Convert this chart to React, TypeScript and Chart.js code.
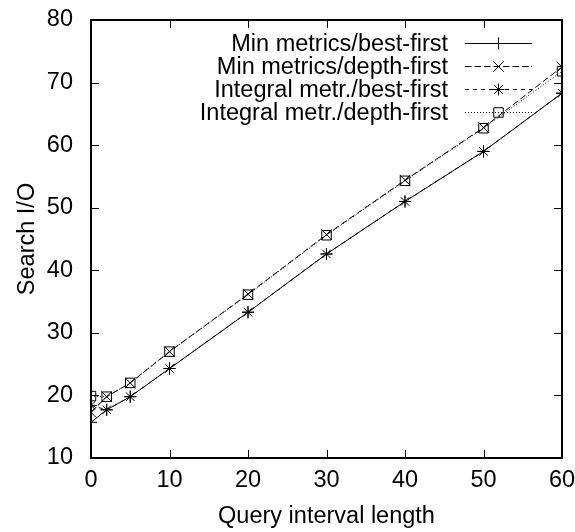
import React, { useEffect, useRef } from 'react';
import { Chart, registerables } from 'chart.js';
import { drawPoint } from 'chart.js/helpers';

Chart.register(...registerables);

// Query interval lengths (x) and measured search I/O per strategy (y)
const queryLengths = [0, 2, 5, 10, 20, 30, 40, 50, 60];
const minBestFirst = [15.7, 17.7, 19.8, 24.3, 33.3, 42.6, 51.0, 59.0, 68.3];
const minDepthFirst = [17.3, 19.8, 22.0, 27.0, 36.2, 45.7, 54.4, 62.8, 72.5];
const integralBestFirst = [18.4, 17.7, 19.8, 24.3, 33.3, 42.6, 51.0, 59.0, 68.3];
const integralDepthFirst = [19.9, 19.8, 22.0, 27.0, 36.1, 45.6, 54.3, 62.7, 71.8];

const seriesLabels = [
  'Min metrics/best-first',
  'Min metrics/depth-first',
  'Integral metr./best-first',
  'Integral metr./depth-first',
];

const xTickValues = [0, 10, 20, 30, 40, 50, 60];
const yTickValues = [10, 20, 30, 40, 50, 60, 70, 80];

const FONT_FAMILY = '"Liberation Sans", Arial, Helvetica, sans-serif';
const FONT_SIZE = 23.5;
const TICK_LEN = 8;

// Plot frame with inward ticks on all four sides
const framePlugin = {
  id: 'frameTicks',
  afterDatasetsDraw(chart: any) {
    const { ctx, chartArea } = chart;
    const { left, right, top, bottom } = chartArea;
    const xs = chart.scales.x;
    const ys = chart.scales.y;
    ctx.save();
    ctx.strokeStyle = '#000';
    ctx.lineWidth = 1;
    ctx.beginPath();
    xTickValues.forEach((v) => {
      const px = Math.round(xs.getPixelForValue(v)) + 0.5;
      ctx.moveTo(px, bottom);
      ctx.lineTo(px, bottom - TICK_LEN);
      ctx.moveTo(px, top);
      ctx.lineTo(px, top + TICK_LEN);
    });
    yTickValues.forEach((v) => {
      const py = Math.round(ys.getPixelForValue(v)) + 0.5;
      ctx.moveTo(left, py);
      ctx.lineTo(left + TICK_LEN, py);
      ctx.moveTo(right, py);
      ctx.lineTo(right - TICK_LEN, py);
    });
    ctx.stroke();
    ctx.lineWidth = 2;
    ctx.strokeRect(left, top, right - left, bottom - top);
    ctx.restore();
  },
};

// Key in the upper right: right-aligned label, then line sample with marker
const keyPlugin = {
  id: 'rightKey',
  afterDraw(chart: any) {
    const { ctx, chartArea } = chart;
    const textRight = chartArea.right - 114;
    const lineStart = chartArea.right - 97;
    const lineEnd = chartArea.right - 30;
    const firstRow = chartArea.top + 22.5;
    const rowStep = 23.1;
    ctx.save();
    ctx.font = `${FONT_SIZE}px ${FONT_FAMILY}`;
    ctx.textAlign = 'right';
    ctx.textBaseline = 'middle';
    chart.data.datasets.forEach((ds: any, i: number) => {
      const y = Math.round(firstRow + i * rowStep) + 0.5;
      ctx.fillStyle = '#000';
      ctx.fillText(ds.label, textRight, y + 1);
      ctx.strokeStyle = '#000';
      ctx.lineWidth = 1;
      ctx.setLineDash(ds.borderDash || []);
      ctx.beginPath();
      ctx.moveTo(lineStart, y);
      ctx.lineTo(lineEnd, y);
      ctx.stroke();
      ctx.setLineDash([]);
      ctx.fillStyle = 'rgba(0,0,0,0)';
      drawPoint(
        ctx,
        {
          pointStyle: ds.pointStyle,
          radius: ds.pointRadius,
          rotation: 0,
          borderWidth: 1,
        } as any,
        (lineStart + lineEnd) / 2,
        y
      );
    });
    ctx.restore();
  },
};

export default function App() {
  const canvasRef = useRef<HTMLCanvasElement | null>(null);

  useEffect(() => {
    if (!canvasRef.current) return;
    const font = { family: FONT_FAMILY, size: FONT_SIZE };
    const common = {
      borderColor: '#000',
      borderWidth: 1,
      pointBorderColor: '#000',
      pointBackgroundColor: 'rgba(0,0,0,0)',
      pointBorderWidth: 1,
      fill: false,
      tension: 0,
    };
    const toPoints = (ys: number[]) => queryLengths.map((x, i) => ({ x, y: ys[i] }));

    const chart = new Chart(canvasRef.current, {
      type: 'line',
      data: {
        datasets: [
          { ...common, label: seriesLabels[0], data: toPoints(minBestFirst), pointStyle: 'cross', pointRadius: 6, borderDash: [] },
          { ...common, label: seriesLabels[1], data: toPoints(minDepthFirst), pointStyle: 'crossRot', pointRadius: 7.5, borderDash: [6.5, 3] },
          { ...common, label: seriesLabels[2], data: toPoints(integralBestFirst), pointStyle: 'star', pointRadius: 6, borderDash: [4, 4] },
          { ...common, label: seriesLabels[3], data: toPoints(integralDepthFirst), pointStyle: 'rect', pointRadius: 6.7, borderDash: [1, 2] },
        ],
      },
      options: {
        animation: false,
        responsive: false,
        maintainAspectRatio: false,
        devicePixelRatio: 1,
        layout: { padding: { top: 20, right: 13, left: 0, bottom: 0 } },
        plugins: {
          legend: { display: false },
          tooltip: { enabled: false },
        },
        scales: {
          x: {
            type: 'linear',
            min: 0,
            max: 60,
            afterBuildTicks: (s: any) => {
              s.ticks = xTickValues.map((v) => ({ value: v }));
            },
            ticks: { font, color: '#000', padding: 0, maxRotation: 0, autoSkip: false },
            grid: { display: false },
            border: { display: false },
            title: {
              display: true,
              text: 'Query interval length',
              font,
              color: '#000',
              padding: { top: 8, bottom: 1 },
            },
            afterFit: (s: any) => {
              s.height = 74;
              s.paddingLeft = 0;
              s.paddingRight = 0;
            },
          },
          y: {
            type: 'linear',
            min: 10,
            max: 80,
            afterBuildTicks: (s: any) => {
              s.ticks = yTickValues.map((v) => ({ value: v }));
            },
            ticks: { font, color: '#000', padding: 10, autoSkip: false },
            grid: { display: false },
            border: { display: false },
            title: {
              display: true,
              text: 'Search I/O',
              font,
              color: '#000',
              padding: { top: 13, bottom: 0 },
            },
            afterFit: (s: any) => {
              s.width = 91;
              s.paddingTop = 0;
              s.paddingBottom = 0;
            },
          },
        },
      },
      plugins: [framePlugin, keyPlugin],
    } as any);

    return () => {
      chart.destroy();
    };
  }, []);

  return (
    <div style={{ position: 'absolute', left: 0, top: 0, width: 575, height: 532, background: '#fff' }}>
      <canvas ref={canvasRef} width={575} height={532} style={{ display: 'block' }} />
    </div>
  );
}
